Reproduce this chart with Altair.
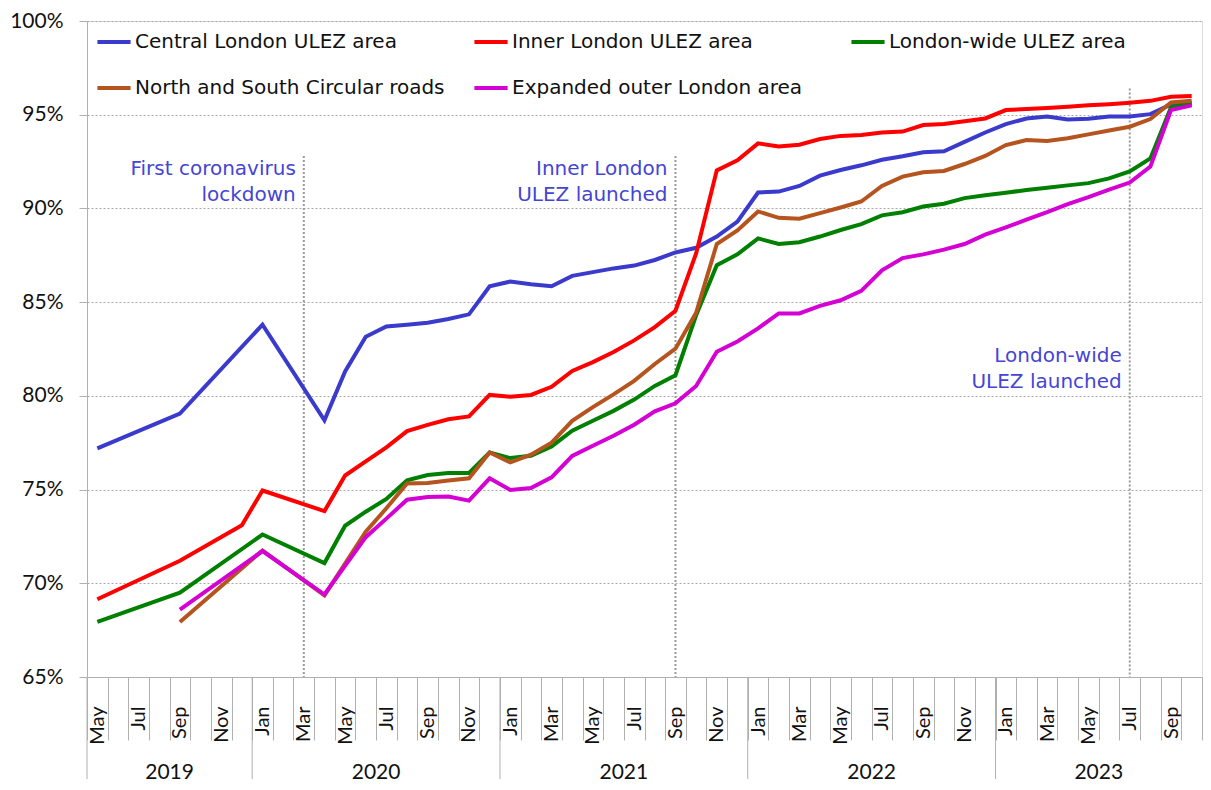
import altair as alt
import pandas as pd

FONT = "DejaVu Sans"
TICKFONT = "Lato"
W, H = 1115, 656

month_names = ["Jan", "Feb", "Mar", "Apr", "May", "Jun", "Jul", "Aug", "Sep", "Oct", "Nov", "Dec"]
months = ([f"{m} 2019" for m in month_names[4:]]
          + [f"{m} {y}" for y in (2020, 2021, 2022) for m in month_names]
          + [f"{m} 2023" for m in month_names[:10]])

N = None
central = [77.2, N, N, N, 79.05, N, N, N,
           83.8, N, N, 78.7, 81.3, 83.15, 83.7, 83.8, 83.9, 84.1, 84.35, 85.85,
           86.1, 85.95, 85.85, 86.4, 86.6, 86.8, 86.95, 87.25, 87.65, 87.9, 88.5, 89.3,
           90.85, 90.9, 91.2, 91.75, 92.05, 92.3, 92.6, 92.78, 93.0, 93.05, 93.55, 94.05,
           94.5, 94.8, 94.9, 94.75, 94.78, 94.9, 94.9, 95.03, 95.55, 95.62]
inner = [69.15, N, N, N, 71.2, N, N, 73.1,
         74.95, N, N, 73.85, 75.75, 76.5, 77.25, 78.12, 78.45, 78.75, 78.9, 80.05,
         79.95, 80.05, 80.48, 81.33, 81.8, 82.34, 82.96, 83.67, 84.54, 87.6, 92.03, 92.57,
         93.47, 93.3, 93.4, 93.7, 93.87, 93.92, 94.05, 94.1, 94.45, 94.5, 94.65, 94.8,
         95.25, 95.3, 95.36, 95.42, 95.5, 95.56, 95.64, 95.74, 95.96, 96.0]
london_wide = [67.94, N, N, N, 69.5, N, N, N,
               72.6, N, N, 71.08, 73.07, 73.82, 74.5, 75.5, 75.78, 75.89, 75.89, 76.98,
               76.68, 76.8, 77.3, 78.14, 78.67, 79.2, 79.8, 80.53, 81.1, 84.3, 86.97, 87.55,
               88.4, 88.1, 88.2, 88.5, 88.85, 89.16, 89.63, 89.8, 90.1, 90.25, 90.55, 90.7,
               90.84, 90.98, 91.1, 91.23, 91.35, 91.6, 91.97, 92.67, 95.4, 95.6]
circular = [N, N, N, N, 67.94, N, N, N,
            71.75, N, N, 69.36, N, 72.75, 74.0, 75.32, 75.35, 75.48, 75.6, 76.98,
            76.45, 76.86, 77.5, 78.67, 79.4, 80.08, 80.8, 81.7, 82.52, 84.43, 88.1, 88.83,
            89.84, 89.5, 89.45, 89.75, 90.05, 90.37, 91.2, 91.7, 91.93, 92.0, 92.37, 92.8,
            93.38, 93.65, 93.6, 93.74, 93.95, 94.16, 94.36, 94.77, 95.65, 95.74]
expanded = [N, N, N, N, 68.6, N, N, N,
            71.72, N, N, 69.4, N, 72.46, 73.45, 74.46, 74.6, 74.63, 74.41, 75.6,
            74.98, 75.08, 75.65, 76.8, 77.34, 77.87, 78.46, 79.17, 79.6, 80.53, 82.35, 82.9,
            83.6, 84.4, 84.4, 84.8, 85.1, 85.6, 86.7, 87.35, 87.55, 87.8, 88.1, 88.6,
            88.99, 89.4, 89.8, 90.23, 90.6, 91.0, 91.38, 92.23, 95.25, 95.5]

series_names = ["Central London ULEZ area", "Inner London ULEZ area", "London-wide ULEZ area",
                "North and South Circular roads", "Expanded outer London area"]
series_colors = ["#3a3acc", "#ff0000", "#008000", "#b5541e", "#d400d4"]
series_values = [central, inner, london_wide, circular, expanded]
draw_order = [0, 2, 3, 4, 1]

rows = []
for k in draw_order:
    for m, v in zip(months, series_values[k]):
        if v is not None:
            rows.append({"month": m, "value": v, "series": series_names[k]})
df = pd.DataFrame(rows)

annot_months = ["Mar 2020", "Sep 2021", "Jul 2023"]
annot_tops = [92.8, 92.8, 96.4]
annot_text_y = [92.12, 92.08, 82.12]
annot_texts = ["First coronavirus\nlockdown", "Inner London\nULEZ launched", "London-wide\nULEZ launched"]
annot_df = pd.DataFrame({"month": annot_months, "top": annot_tops, "bottom": [65] * 3,
                         "ty": annot_text_y, "label": annot_texts})

years = ["2019", "2020", "2021", "2022", "2023"]
year_mid = ["Sep 2019", "Jul 2020", "Jul 2021", "Jul 2022", "Jun 2023"]
year_start = ["May 2019", "Jan 2020", "Jan 2021", "Jan 2022", "Jan 2023"]
year_df = pd.DataFrame({"year": years, "mid": year_mid, "start": year_start})

xscale = alt.Scale(type="band", domain=months, paddingInner=0, paddingOuter=0)
label_expr = ("indexof(['Jan','Mar','May','Jul','Sep','Nov'], split(datum.value,' ')[0]) >= 0"
              " ? split(datum.value,' ')[0] : ''")

x_axis = alt.Axis(title=None, labelExpr=label_expr, labelAngle=270, labelAlign="right",
                  labelBaseline="middle", tickBand="extent", tickSize=63, tickColor="#b0b0b0",
                  domainColor="#b0b0b0", labelPadding=-34, labelFontSize=20, labelFont=TICKFONT,
                  labelColor="#111", grid=False, labelOverlap=False)
y_axis = alt.Axis(title=None, values=[65, 70, 75, 80, 85, 90, 95, 100],
                  labelExpr="datum.value + '%'", tickSize=8, tickColor="#b0b0b0",
                  domainColor="#b0b0b0", labelPadding=16, labelFontSize=21, labelFont=TICKFONT,
                  labelColor="#111", grid=True, gridDash=[2, 2], gridColor="#a8a8a8")
yscale = alt.Scale(domain=[65, 100], nice=False, zero=False)
cscale = alt.Scale(domain=series_names, range=series_colors)

legend = alt.Legend(title=None, orient="none", legendX=8, legendY=2, columns=3,
                    direction="horizontal", symbolType="stroke", symbolSize=1100,
                    symbolStrokeWidth=4, labelFontSize=20, labelFont=FONT, labelColor="#111",
                    gridAlign="all", columnPadding=21, rowPadding=17, labelOffset=2, labelLimit=0)

X = lambda field, bp: alt.X(f"{field}:N", scale=xscale, bandPosition=bp, axis=x_axis)
Y = lambda field: alt.Y(f"{field}:Q", scale=yscale, axis=y_axis)

layers = []
for k in draw_order:
    layers.append(
        alt.Chart(df).transform_filter(alt.datum.series == series_names[k])
        .mark_line(strokeWidth=4, strokeJoin="miter", strokeCap="butt")
        .encode(x=X("month", 0.5), y=Y("value"),
                color=alt.Color("series:N", scale=cscale, legend=legend))
    )

rules = alt.Chart(annot_df).mark_rule(color="#9a9a9a", strokeWidth=2, strokeDash=[2, 2]).encode(
    x=X("month", 0.5), y=Y("top"), y2="bottom:Q",
)
texts = alt.Chart(annot_df).mark_text(align="right", baseline="middle", dx=-8, lineBreak="\n",
                                      lineHeight=26, fontSize=20, font=FONT, color="#4545d4").encode(
    x=X("month", 0.5), y=Y("ty"), text="label:N",
)
year_rules = alt.Chart(year_df).mark_rule(color="#b0b0b0", strokeWidth=1).encode(
    x=X("start", 0), y=alt.value(H), y2=alt.value(H + 102),
)
year_text = alt.Chart(year_df).mark_text(fontSize=21, font=TICKFONT, color="#111", baseline="middle").encode(
    x=X("mid", 0), y=alt.value(H + 96), text="year:N",
)

chart = alt.layer(rules, *layers, texts, year_rules, year_text).properties(
    width=W, height=H, padding={"left": 1, "top": 2, "right": 0, "bottom": 0}
).configure_view(stroke=None).configure(background="white")

chart.save("out.html", embed_options={"renderer": "svg", "actions": False})
